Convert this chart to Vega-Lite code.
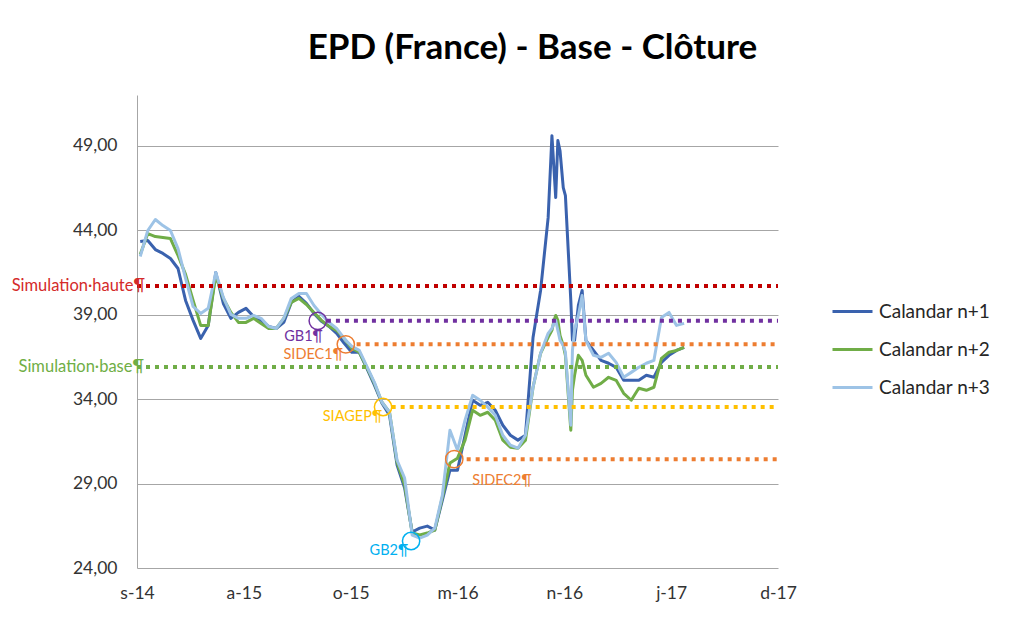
{
  "$schema": "https://vega.github.io/schema/vega-lite/v6.json",
  "width": 641,
  "height": 473,
  "autosize": "none",
  "padding": {"left": 137, "top": 95, "right": 237, "bottom": 51},
  "background": "white",
  "config": {"view": {"stroke": null}, "font": "Lato"},
  "title": {"text": "EPD (France) - Base - Clôture", "font": "Lato", "fontSize": 35, "fontWeight": "bold", "color": "#000000", "anchor": "middle", "dx": 75, "offset": 29},
  "datasets": {
    "series": [
      {"d": "2014-10-01", "Calandar n+1": 43.33, "Calandar n+2": 42.56, "Calandar n+3": 42.44},
      {"d": "2014-10-15", "Calandar n+1": 43.39, "Calandar n+2": 43.80, "Calandar n+3": 43.98},
      {"d": "2014-10-29", "Calandar n+1": 42.85, "Calandar n+2": 43.62, "Calandar n+3": 44.63},
      {"d": "2014-11-12", "Calandar n+1": 42.62, "Calandar n+2": 43.56, "Calandar n+3": 44.27},
      {"d": "2014-11-26", "Calandar n+1": 42.32, "Calandar n+2": 43.50, "Calandar n+3": 43.98},
      {"d": "2014-12-10", "Calandar n+1": 41.73, "Calandar n+2": 42.50, "Calandar n+3": 42.91},
      {"d": "2014-12-24", "Calandar n+1": 39.84, "Calandar n+2": 41.38, "Calandar n+3": 41.14},
      {"d": "2015-01-07", "Calandar n+1": 38.66, "Calandar n+2": 39.84, "Calandar n+3": 39.48},
      {"d": "2015-01-21", "Calandar n+1": 37.59, "Calandar n+2": 38.36, "Calandar n+3": 39.07},
      {"d": "2015-02-04", "Calandar n+1": 38.36, "Calandar n+2": 38.36, "Calandar n+3": 39.37},
      {"d": "2015-02-18", "Calandar n+1": 41.49, "Calandar n+2": 41.32, "Calandar n+3": 41.49},
      {"d": "2015-03-04", "Calandar n+1": 39.66, "Calandar n+2": 39.96, "Calandar n+3": 40.02},
      {"d": "2015-03-18", "Calandar n+1": 38.78, "Calandar n+2": 39.13, "Calandar n+3": 39.01},
      {"d": "2015-04-01", "Calandar n+1": 39.13, "Calandar n+2": 38.54, "Calandar n+3": 38.78},
      {"d": "2015-04-15", "Calandar n+1": 39.37, "Calandar n+2": 38.54, "Calandar n+3": 38.78},
      {"d": "2015-04-29", "Calandar n+1": 38.89, "Calandar n+2": 38.78, "Calandar n+3": 38.95},
      {"d": "2015-05-13", "Calandar n+1": 38.66, "Calandar n+2": 38.48, "Calandar n+3": 38.78},
      {"d": "2015-05-27", "Calandar n+1": 38.30, "Calandar n+2": 38.18, "Calandar n+3": 38.30},
      {"d": "2015-06-10", "Calandar n+1": 38.18, "Calandar n+2": 38.18, "Calandar n+3": 38.18},
      {"d": "2015-06-24", "Calandar n+1": 38.54, "Calandar n+2": 38.78, "Calandar n+3": 38.78},
      {"d": "2015-07-08", "Calandar n+1": 39.72, "Calandar n+2": 39.72, "Calandar n+3": 39.96},
      {"d": "2015-07-22", "Calandar n+1": 40.08, "Calandar n+2": 39.96, "Calandar n+3": 40.25},
      {"d": "2015-08-05", "Calandar n+1": 39.66, "Calandar n+2": 39.60, "Calandar n+3": 40.25},
      {"d": "2015-08-19", "Calandar n+1": 39.07, "Calandar n+2": 39.13, "Calandar n+3": 39.54},
      {"d": "2015-09-02", "Calandar n+1": 38.60, "Calandar n+2": 38.66, "Calandar n+3": 39.01},
      {"d": "2015-09-16", "Calandar n+1": 38.30, "Calandar n+2": 38.30, "Calandar n+3": 38.54},
      {"d": "2015-09-30", "Calandar n+1": 37.89, "Calandar n+2": 38.07, "Calandar n+3": 38.18},
      {"d": "2015-10-14", "Calandar n+1": 37.30, "Calandar n+2": 37.59, "Calandar n+3": 37.59},
      {"d": "2015-10-28", "Calandar n+1": 36.77, "Calandar n+2": 37.00, "Calandar n+3": 37.12},
      {"d": "2015-11-11", "Calandar n+1": 36.77, "Calandar n+2": 36.77, "Calandar n+3": 36.88},
      {"d": "2015-11-25", "Calandar n+1": 35.82, "Calandar n+2": 35.88, "Calandar n+3": 35.94},
      {"d": "2015-12-09", "Calandar n+1": 34.82, "Calandar n+2": 34.93, "Calandar n+3": 34.99},
      {"d": "2015-12-23", "Calandar n+1": 33.75, "Calandar n+2": 33.81, "Calandar n+3": 33.81},
      {"d": "2016-01-06", "Calandar n+1": 33.04, "Calandar n+2": 33.22, "Calandar n+3": 33.22},
      {"d": "2016-01-20", "Calandar n+1": 30.09, "Calandar n+2": 30.26, "Calandar n+3": 30.38},
      {"d": "2016-02-03", "Calandar n+1": 28.73, "Calandar n+2": 28.91, "Calandar n+3": 29.32},
      {"d": "2016-02-17", "Calandar n+1": 26.13, "Calandar n+2": 26.07, "Calandar n+3": 25.95},
      {"d": "2016-03-02", "Calandar n+1": 26.36, "Calandar n+2": 25.95, "Calandar n+3": 25.77},
      {"d": "2016-03-16", "Calandar n+1": 26.48, "Calandar n+2": 26.07, "Calandar n+3": 25.95},
      {"d": "2016-03-30", "Calandar n+1": 26.25, "Calandar n+2": 26.25, "Calandar n+3": 26.36},
      {"d": "2016-04-13", "Calandar n+1": 28.02, "Calandar n+2": 28.20, "Calandar n+3": 28.31},
      {"d": "2016-04-27", "Calandar n+1": 29.79, "Calandar n+2": 30.21, "Calandar n+3": 32.16},
      {"d": "2016-05-11", "Calandar n+1": 29.79, "Calandar n+2": 30.50, "Calandar n+3": 30.97},
      {"d": "2016-05-25", "Calandar n+1": 31.86, "Calandar n+2": 31.57, "Calandar n+3": 32.75},
      {"d": "2016-06-08", "Calandar n+1": 33.93, "Calandar n+2": 33.34, "Calandar n+3": 34.22},
      {"d": "2016-06-22", "Calandar n+1": 33.63, "Calandar n+2": 33.04, "Calandar n+3": 33.93},
      {"d": "2016-07-06", "Calandar n+1": 33.81, "Calandar n+2": 33.22, "Calandar n+3": 33.52},
      {"d": "2016-07-20", "Calandar n+1": 33.34, "Calandar n+2": 32.75, "Calandar n+3": 33.04},
      {"d": "2016-08-03", "Calandar n+1": 32.45, "Calandar n+2": 31.57, "Calandar n+3": 31.86},
      {"d": "2016-08-17", "Calandar n+1": 31.86, "Calandar n+2": 31.15, "Calandar n+3": 31.27},
      {"d": "2016-08-31", "Calandar n+1": 31.57, "Calandar n+2": 31.09, "Calandar n+3": 31.09},
      {"d": "2016-09-14", "Calandar n+1": 31.86, "Calandar n+2": 31.57, "Calandar n+3": 31.86},
      {"d": "2016-09-28", "Calandar n+1": 37.65, "Calandar n+2": 34.70, "Calandar n+3": 34.70},
      {"d": "2016-10-12", "Calandar n+1": 40.43, "Calandar n+2": 36.71, "Calandar n+3": 36.71},
      {"d": "2016-10-26", "Calandar n+1": 44.74, "Calandar n+2": 37.65, "Calandar n+3": 37.89},
      {"d": "2016-11-02", "Calandar n+1": 49.59, "Calandar n+2": 38.07, "Calandar n+3": 38.18},
      {"d": "2016-11-06", "Calandar n+1": 47.52, "Calandar n+2": 38.66, "Calandar n+3": 38.54},
      {"d": "2016-11-09", "Calandar n+1": 45.93, "Calandar n+2": 38.95, "Calandar n+3": 38.66},
      {"d": "2016-11-13", "Calandar n+1": 49.30, "Calandar n+2": 38.66, "Calandar n+3": 38.07},
      {"d": "2016-11-17", "Calandar n+1": 48.70, "Calandar n+2": 37.77, "Calandar n+3": 37.48},
      {"d": "2016-11-23", "Calandar n+1": 46.52, "Calandar n+2": 37.18, "Calandar n+3": 37.18},
      {"d": "2016-11-27", "Calandar n+1": 46.04, "Calandar n+2": 36.59, "Calandar n+3": 36.77},
      {"d": "2016-12-07", "Calandar n+1": 39.84, "Calandar n+2": 32.16, "Calandar n+3": 32.45},
      {"d": "2016-12-10", "Calandar n+1": 37.48, "Calandar n+2": 34.52, "Calandar n+3": 36.88},
      {"d": "2016-12-14", "Calandar n+1": 37.48, "Calandar n+2": 35.41, "Calandar n+3": 38.07},
      {"d": "2016-12-21", "Calandar n+1": 39.54, "Calandar n+2": 36.59, "Calandar n+3": 38.95},
      {"d": "2016-12-28", "Calandar n+1": 40.43, "Calandar n+2": 36.29, "Calandar n+3": 40.13},
      {"d": "2017-01-04", "Calandar n+1": 37.48, "Calandar n+2": 35.41, "Calandar n+3": 37.48},
      {"d": "2017-01-18", "Calandar n+1": 36.88, "Calandar n+2": 34.70, "Calandar n+3": 36.59},
      {"d": "2017-02-01", "Calandar n+1": 36.29, "Calandar n+2": 34.93, "Calandar n+3": 36.47},
      {"d": "2017-02-15", "Calandar n+1": 36.12, "Calandar n+2": 35.29, "Calandar n+3": 36.71},
      {"d": "2017-03-01", "Calandar n+1": 35.88, "Calandar n+2": 35.11, "Calandar n+3": 36.17},
      {"d": "2017-03-15", "Calandar n+1": 35.11, "Calandar n+2": 34.34, "Calandar n+3": 35.29},
      {"d": "2017-03-29", "Calandar n+1": 35.11, "Calandar n+2": 33.93, "Calandar n+3": 35.58},
      {"d": "2017-04-12", "Calandar n+1": 35.11, "Calandar n+2": 34.64, "Calandar n+3": 35.88},
      {"d": "2017-04-26", "Calandar n+1": 35.41, "Calandar n+2": 34.52, "Calandar n+3": 36.12},
      {"d": "2017-05-10", "Calandar n+1": 35.29, "Calandar n+2": 34.70, "Calandar n+3": 36.29},
      {"d": "2017-05-24", "Calandar n+1": 36.17, "Calandar n+2": 36.41, "Calandar n+3": 38.83},
      {"d": "2017-06-07", "Calandar n+1": 36.59, "Calandar n+2": 36.77, "Calandar n+3": 39.13},
      {"d": "2017-06-21", "Calandar n+1": 36.88, "Calandar n+2": 36.88, "Calandar n+3": 38.36},
      {"d": "2017-07-05", "Calandar n+1": 37.06, "Calandar n+2": 37.06, "Calandar n+3": 38.48}
    ],
    "refs": [
      {"name": "Simulation haute", "value": 40.7, "start": "2014-09-25", "end": "2017-12-26", "label": "Simulation·haute¶"},
      {"name": "GB1", "value": 38.63, "start": "2015-09-12", "end": "2017-12-26", "label": ""},
      {"name": "SIDEC1", "value": 37.24, "start": "2015-11-06", "end": "2017-12-26", "label": ""},
      {"name": "Simulation base", "value": 35.9, "start": "2014-09-25", "end": "2017-12-26", "label": "Simulation·base¶"},
      {"name": "SIAGEP", "value": 33.53, "start": "2016-01-10", "end": "2017-12-26", "label": ""},
      {"name": "SIDEC2", "value": 30.44, "start": "2016-05-28", "end": "2017-12-26", "label": ""}
    ],
    "points": [
      {"name": "GB1", "date": "2015-08-26", "value": 38.63, "label": "GB1¶"},
      {"name": "SIDEC1", "date": "2015-10-17", "value": 37.24, "label": "SIDEC1¶"},
      {"name": "SIAGEP", "date": "2015-12-25", "value": 33.53, "label": "SIAGEP¶"},
      {"name": "GB2", "date": "2016-02-15", "value": 25.6, "label": "GB2¶"},
      {"name": "SIDEC2", "date": "2016-05-05", "value": 30.44, "label": "SIDEC2¶"}
    ]
  },
  "layer": [
    {
      "data": {"name": "series"},
      "transform": [{"fold": ["Calandar n+1", "Calandar n+2", "Calandar n+3"], "as": ["serie", "value"]}],
      "mark": {"type": "line", "strokeWidth": 3, "strokeJoin": "round"},
      "encoding": {
        "x": {
          "field": "d", "type": "temporal",
          "scale": {"type": "utc", "domain": [{"year": 2014, "month": 9, "date": 25, "utc": true}, {"year": 2017, "month": 12, "date": 26, "utc": true}]},
          "axis": {
            "values": [
              {"year": 2014, "month": 9, "date": 25, "utc": true},
              {"year": 2015, "month": 4, "date": 11, "utc": true},
              {"year": 2015, "month": 10, "date": 26, "utc": true},
              {"year": 2016, "month": 5, "date": 11, "utc": true},
              {"year": 2016, "month": 11, "date": 25, "utc": true},
              {"year": 2017, "month": 6, "date": 11, "utc": true},
              {"year": 2017, "month": 12, "date": 26, "utc": true}
            ],
            "labelExpr": "lower(slice(utcFormat(datum.value,'%b'),0,1)) + '-' + utcFormat(datum.value,'%y')",
            "grid": false, "ticks": false, "domain": false,
            "labelFont": "Lato", "labelFontSize": 17.5, "labelColor": "#333333",
            "labelPadding": 16, "labelFlush": false, "labelOverlap": false, "title": null
          }
        },
        "y": {
          "field": "value", "type": "quantitative",
          "scale": {"domain": [24, 52], "nice": false, "zero": false},
          "axis": {
            "values": [24, 29, 34, 39, 44, 49],
            "labelExpr": "replace(format(datum.value,'.2f'),'.',',')",
            "grid": true, "gridColor": "#a6a6a6", "gridWidth": 1,
            "ticks": false, "domain": true, "domainColor": "#a6a6a6",
            "labelFont": "Lato", "labelFontSize": 17.5, "labelColor": "#333333",
            "labelPadding": 20, "title": null
          }
        },
        "color": {
          "field": "serie", "type": "nominal",
          "scale": {"domain": ["Calandar n+1", "Calandar n+2", "Calandar n+3"], "range": ["#3A62AE", "#70AD47", "#9DC3E6"]},
          "legend": {
            "orient": "none", "legendX": 694, "legendY": 195, "title": null,
            "symbolType": "stroke", "symbolStrokeWidth": 3, "symbolSize": 1600,
            "labelFont": "Lato", "labelFontSize": 19, "labelColor": "#262626",
            "labelOffset": 5, "rowPadding": 6
          }
        }
      }
    },
    {
      "data": {"name": "refs"},
      "mark": {"type": "rule", "strokeWidth": 4, "strokeDash": [4, 5], "strokeCap": "butt"},
      "encoding": {
        "x": {"field": "start", "type": "temporal"},
        "x2": {"field": "end"},
        "y": {"field": "value", "type": "quantitative"},
        "color": {
          "field": "name", "type": "nominal",
          "scale": {"domain": ["Simulation haute", "GB1", "SIDEC1", "Simulation base", "SIAGEP", "SIDEC2"], "range": ["#C00000", "#7030A0", "#ED7D31", "#70AD47", "#FFC000", "#ED7D31"]},
          "legend": null
        }
      }
    },
    {
      "data": {"name": "points"},
      "mark": {"type": "point", "shape": "circle", "filled": false, "size": 300, "strokeWidth": 1.5, "opacity": 1},
      "encoding": {
        "x": {"field": "date", "type": "temporal"},
        "y": {"field": "value", "type": "quantitative"},
        "color": {
          "field": "name", "type": "nominal",
          "scale": {"domain": ["GB1", "SIDEC1", "SIAGEP", "GB2", "SIDEC2"], "range": ["#7030A0", "#ED7D31", "#FFC000", "#00B0F0", "#ED7D31"]},
          "legend": null
        }
      }
    },
    {
      "data": {"name": "refs"},
      "transform": [{"filter": "datum.name === 'Simulation haute'"}],
      "mark": {"type": "text", "align": "right", "baseline": "middle", "dx": 8, "font": "Lato", "fontSize": 16.5, "color": "#D42A2A"},
      "encoding": {"x": {"field": "start", "type": "temporal"}, "y": {"field": "value", "type": "quantitative"}, "text": {"field": "label"}}
    },
    {
      "data": {"name": "refs"},
      "transform": [{"filter": "datum.name === 'Simulation base'"}],
      "mark": {"type": "text", "align": "right", "baseline": "middle", "dx": 7, "font": "Lato", "fontSize": 16.5, "color": "#6FAE45"},
      "encoding": {"x": {"field": "start", "type": "temporal"}, "y": {"field": "value", "type": "quantitative"}, "text": {"field": "label"}}
    },
    {
      "data": {"name": "points"},
      "transform": [{"filter": "datum.name === 'GB1'"}],
      "mark": {"type": "text", "align": "right", "baseline": "middle", "dx": 5, "dy": 16, "font": "Lato", "fontSize": 14.5, "color": "#7030A0"},
      "encoding": {"x": {"field": "date", "type": "temporal"}, "y": {"field": "value", "type": "quantitative"}, "text": {"field": "label"}}
    },
    {
      "data": {"name": "points"},
      "transform": [{"filter": "datum.name === 'SIDEC1'"}],
      "mark": {"type": "text", "align": "right", "baseline": "middle", "dx": -3, "dy": 11, "font": "Lato", "fontSize": 14.5, "color": "#ED7D31"},
      "encoding": {"x": {"field": "date", "type": "temporal"}, "y": {"field": "value", "type": "quantitative"}, "text": {"field": "label"}}
    },
    {
      "data": {"name": "points"},
      "transform": [{"filter": "datum.name === 'SIAGEP'"}],
      "mark": {"type": "text", "align": "right", "baseline": "middle", "dx": -1, "dy": 10, "font": "Lato", "fontSize": 14.5, "color": "#FFC000"},
      "encoding": {"x": {"field": "date", "type": "temporal"}, "y": {"field": "value", "type": "quantitative"}, "text": {"field": "label"}}
    },
    {
      "data": {"name": "points"},
      "transform": [{"filter": "datum.name === 'GB2'"}],
      "mark": {"type": "text", "align": "right", "baseline": "middle", "dx": -3, "dy": 10, "font": "Lato", "fontSize": 14.5, "color": "#00B0F0"},
      "encoding": {"x": {"field": "date", "type": "temporal"}, "y": {"field": "value", "type": "quantitative"}, "text": {"field": "label"}}
    },
    {
      "data": {"name": "points"},
      "transform": [{"filter": "datum.name === 'SIDEC2'"}],
      "mark": {"type": "text", "align": "left", "baseline": "middle", "dx": 18, "dy": 22, "font": "Lato", "fontSize": 14.5, "color": "#ED7D31"},
      "encoding": {"x": {"field": "date", "type": "temporal"}, "y": {"field": "value", "type": "quantitative"}, "text": {"field": "label"}}
    }
  ],
  "resolve": {"scale": {"color": "independent"}}
}
